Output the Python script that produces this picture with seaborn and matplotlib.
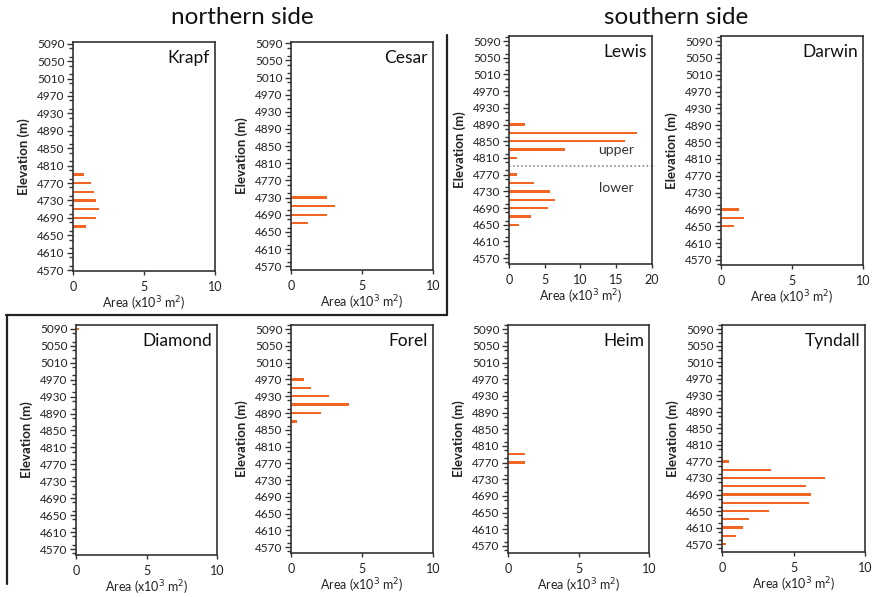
import numpy as np
import pandas as pd
import matplotlib
matplotlib.use("Agg")
import matplotlib.pyplot as plt
from matplotlib.lines import Line2D
from matplotlib.ticker import MultipleLocator
import seaborn as sns

# ---------------- data ----------------
elevation_bins = [4570, 4590, 4610, 4630, 4650, 4670, 4690, 4710, 4730, 4750,
                  4770, 4790, 4810, 4830, 4850, 4870, 4890, 4910, 4930, 4950,
                  4970, 4990, 5010, 5030, 5050, 5070, 5090]
ytick_labels = [4570, 4610, 4650, 4690, 4730, 4770, 4810, 4850, 4890, 4930,
                4970, 5010, 5050, 5090]

krapf_elev = [4670, 4690, 4710, 4730, 4750, 4770, 4790]
krapf_area = [0.95, 1.65, 1.85, 1.65, 1.5, 1.25, 0.75]

cesar_elev = [4670, 4690, 4710, 4730]
cesar_area = [1.2, 2.55, 3.1, 2.5]

lewis_elev = [4650, 4670, 4690, 4710, 4730, 4750, 4770, 4810, 4830, 4850, 4870, 4890]
lewis_area = [1.4, 3.1, 5.4, 6.5, 5.8, 3.5, 1.1, 1.1, 7.9, 16.2, 17.9, 2.2]

darwin_elev = [4650, 4670, 4690]
darwin_area = [0.9, 1.6, 1.3]

diamond_elev = [5090]
diamond_area = [0.2]

forel_elev = [4870, 4890, 4910, 4930, 4950, 4970]
forel_area = [0.4, 2.1, 4.05, 2.7, 1.4, 0.9]

heim_elev = [4770, 4790]
heim_area = [1.2, 1.2]

tyndall_elev = [4570, 4590, 4610, 4630, 4650, 4670, 4690, 4710, 4730, 4750, 4770]
tyndall_area = [0.3, 1.0, 1.5, 1.9, 3.3, 6.05, 6.2, 5.9, 7.2, 3.4, 0.5]

lewis_split = 4790

# ---------------- style ----------------
sns.set_theme(style="white")
plt.rcParams['font.family'] = ['Lato', 'DejaVu Sans']
BAR = '#F26522'
DARK = '#333333'

W, H = 874, 597
fig = plt.figure(figsize=(W / 100, H / 100), dpi=100)
fig.patch.set_facecolor('white')


def rect(l, t, r, b):
    return [l / W, 1 - b / H, (r - l) / W, (b - t) / H]


panels = [
    ("Krapf", krapf_elev, krapf_area, (73, 42, 215, 271), (4568, 5094), 10),
    ("Cesar", cesar_elev, cesar_area, (291, 42, 433, 270), (4561, 5093), 10),
    ("Lewis", lewis_elev, lewis_area, (509, 36, 652, 264), (4556, 5102), 20),
    ("Darwin", darwin_elev, darwin_area, (721, 36, 863, 265), (4558, 5102), 10),
    ("Diamond", diamond_elev, diamond_area, (76, 325, 217, 555), (4556, 5099), 10),
    ("Forel", forel_elev, forel_area, (291, 325, 433, 553), (4556, 5100), 10),
    ("Heim", heim_elev, heim_area, (508, 325, 649, 553), (4553, 5100), 10),
    ("Tyndall", tyndall_elev, tyndall_area, (722, 325, 865, 552), (4551, 5100), 10),
]

for name, el, ar, box, ylim, xmax in panels:
    ax = fig.add_axes(rect(*box))
    s = pd.Series(ar, index=el).reindex(elevation_bins, fill_value=0.0)
    df = pd.DataFrame({"elevation": s.index.astype(float), "area": s.values})
    sns.barplot(data=df, x="area", y="elevation", orient="y", native_scale=True,
                color=BAR, saturation=1, width=0.28, errorbar=None,
                linewidth=0, ax=ax)
    ax.set_ylim(*ylim)
    ax.set_xlim(0, xmax)
    ax.set_xticks(np.arange(0, xmax + 1, 5))
    ax.set_xticklabels([str(v) for v in np.arange(0, xmax + 1, 5)])
    ax.set_yticks(ytick_labels)
    ax.set_yticklabels([str(v) for v in ytick_labels])
    ax.yaxis.set_minor_locator(MultipleLocator(20))
    ax.tick_params(axis='y', which='major', direction='out', length=4, width=1,
                   color=DARK, labelsize=8.5, pad=2, left=True,
                   labelcolor='#222222')
    ax.tick_params(axis='y', which='minor', direction='out', length=3, width=1,
                   color=DARK, left=True)
    ax.tick_params(axis='x', which='major', direction='out', length=3, width=1,
                   color=DARK, labelsize=9, pad=4, bottom=True,
                   labelcolor='#222222')
    for sp in ax.spines.values():
        sp.set_visible(True)
        sp.set_color(DARK)
        sp.set_linewidth(1.2)
    ax.set_ylabel("Elevation (m)", fontsize=9.5, fontweight='bold', labelpad=5,
                  color='#222222')
    ax.set_xlabel("Area (x10$^3$ m$^2$)", fontsize=9, labelpad=1, color='#222222')
    ax.text(0.965, 0.93, name, transform=ax.transAxes, ha='right', va='center',
            fontsize=12.5, color='#111111')
    ax.grid(False)
    if name == "Lewis":
        ax.axhline(lewis_split, xmin=0, xmax=1.02, color='#777777', ls=':',
                   lw=1.1, clip_on=False)
        ax.text(0.75, (4828 - ylim[0]) / (ylim[1] - ylim[0]), "upper",
                transform=ax.transAxes, ha='center', va='center', fontsize=10,
                color='#333333')
        ax.text(0.75, (4737 - ylim[0]) / (ylim[1] - ylim[0]), "lower",
                transform=ax.transAxes, ha='center', va='center', fontsize=10,
                color='#333333')

fig.text(242 / W, 1 - 17 / H, "northern side", ha='center', va='center',
         fontsize=17.5, color='#111111')
fig.text(676 / W, 1 - 17 / H, "southern side", ha='center', va='center',
         fontsize=17.5, color='#111111')

# separating frame lines
lw = 1.6
fig.add_artist(Line2D([447 / W, 447 / W], [1 - 35 / H, 1 - 315 / H], color='#222222', lw=lw))
fig.add_artist(Line2D([6 / W, 447 / W], [1 - 315 / H, 1 - 315 / H], color='#222222', lw=lw))
fig.add_artist(Line2D([7 / W, 7 / W], [1 - 315 / H, 1 - 584 / H], color='#222222', lw=lw))

fig.savefig("out.png", dpi=100, facecolor='white')
